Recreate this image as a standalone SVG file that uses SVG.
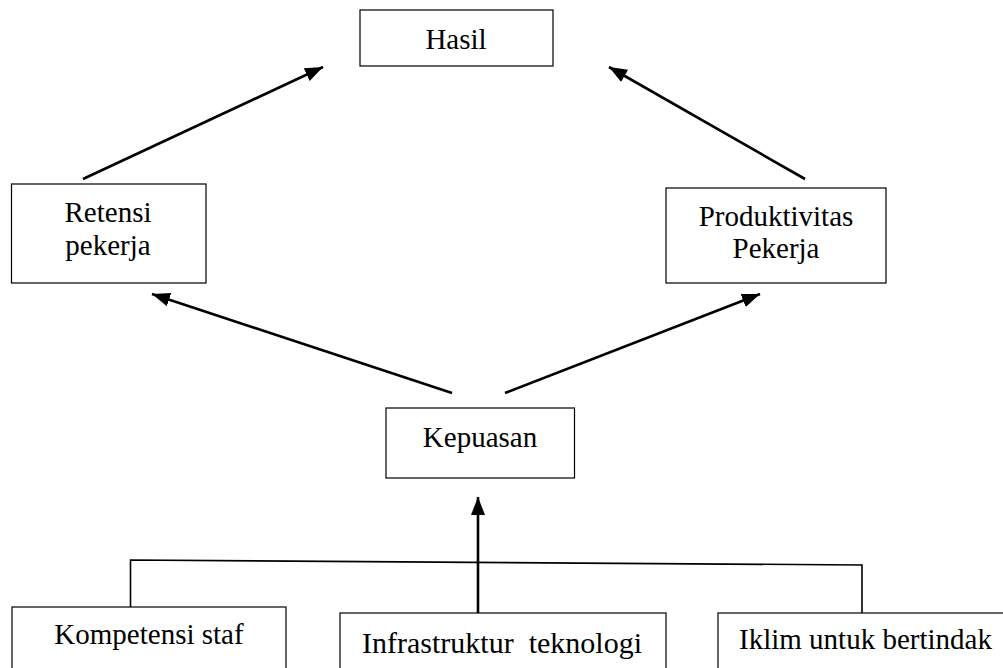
<svg xmlns="http://www.w3.org/2000/svg" width="1003" height="668" viewBox="0 0 1003 668">
<style>
.box{fill:#fff;stroke:#000;stroke-width:1.2}
.t{font-family:"Liberation Serif","Times New Roman",serif;font-size:29px;fill:#000;text-anchor:middle}
.arr{stroke:#000;stroke-width:2.6;fill:none;marker-end:url(#ah)}
.ln{stroke:#000;stroke-width:1.6;fill:none}
</style>
<defs>
<marker id="ah" markerUnits="userSpaceOnUse" markerWidth="20" markerHeight="16" refX="18" refY="7" orient="auto">
<path d="M0,0 L18,7 L0,14 Z" fill="#000"/>
</marker>
</defs>
<rect width="1003" height="668" fill="#fff"/>
<g id="hasil"><rect class="box" x="360" y="10" width="193" height="56"/><text class="t" x="456" y="49">Hasil</text></g>
<g id="retensi"><rect class="box" x="11.5" y="184" width="194.5" height="99"/><text class="t" x="108" y="222">Retensi</text><text class="t" x="108" y="255">pekerja</text></g>
<g id="produktivitas"><rect class="box" x="666" y="188" width="220" height="95"/><text class="t" x="776" y="226">Produktivitas</text><text class="t" x="776" y="258">Pekerja</text></g>
<g id="kepuasan"><rect class="box" x="386" y="408" width="188.5" height="70"/><text class="t" x="480" y="447">Kepuasan</text></g>
<g id="kompetensi"><rect class="box" x="12" y="607" width="274" height="70"/><text class="t" x="149" y="644">Kompetensi staf</text></g>
<g id="infrastruktur"><rect class="box" x="340" y="613" width="326" height="70"/><text class="t" x="502" y="653" style="font-size:30px" xml:space="preserve">Infrastruktur  teknologi</text></g>
<g id="iklim"><rect class="box" x="718" y="613" width="300" height="70"/><text class="t" x="739" y="649" style="text-anchor:start">Iklim untuk bertindak</text></g>
<g id="connectors">
<line class="arr" x1="83" y1="179" x2="323" y2="67"/>
<line class="arr" x1="805" y1="179" x2="609" y2="67"/>
<line class="arr" x1="452" y1="393" x2="152" y2="294"/>
<line class="arr" x1="505" y1="393" x2="760" y2="294"/>
<line class="arr" x1="478" y1="613" x2="478" y2="497"/>
<polyline class="ln" points="130.5,607 130.5,560 862,565 862,613"/>
</g>
</svg>
